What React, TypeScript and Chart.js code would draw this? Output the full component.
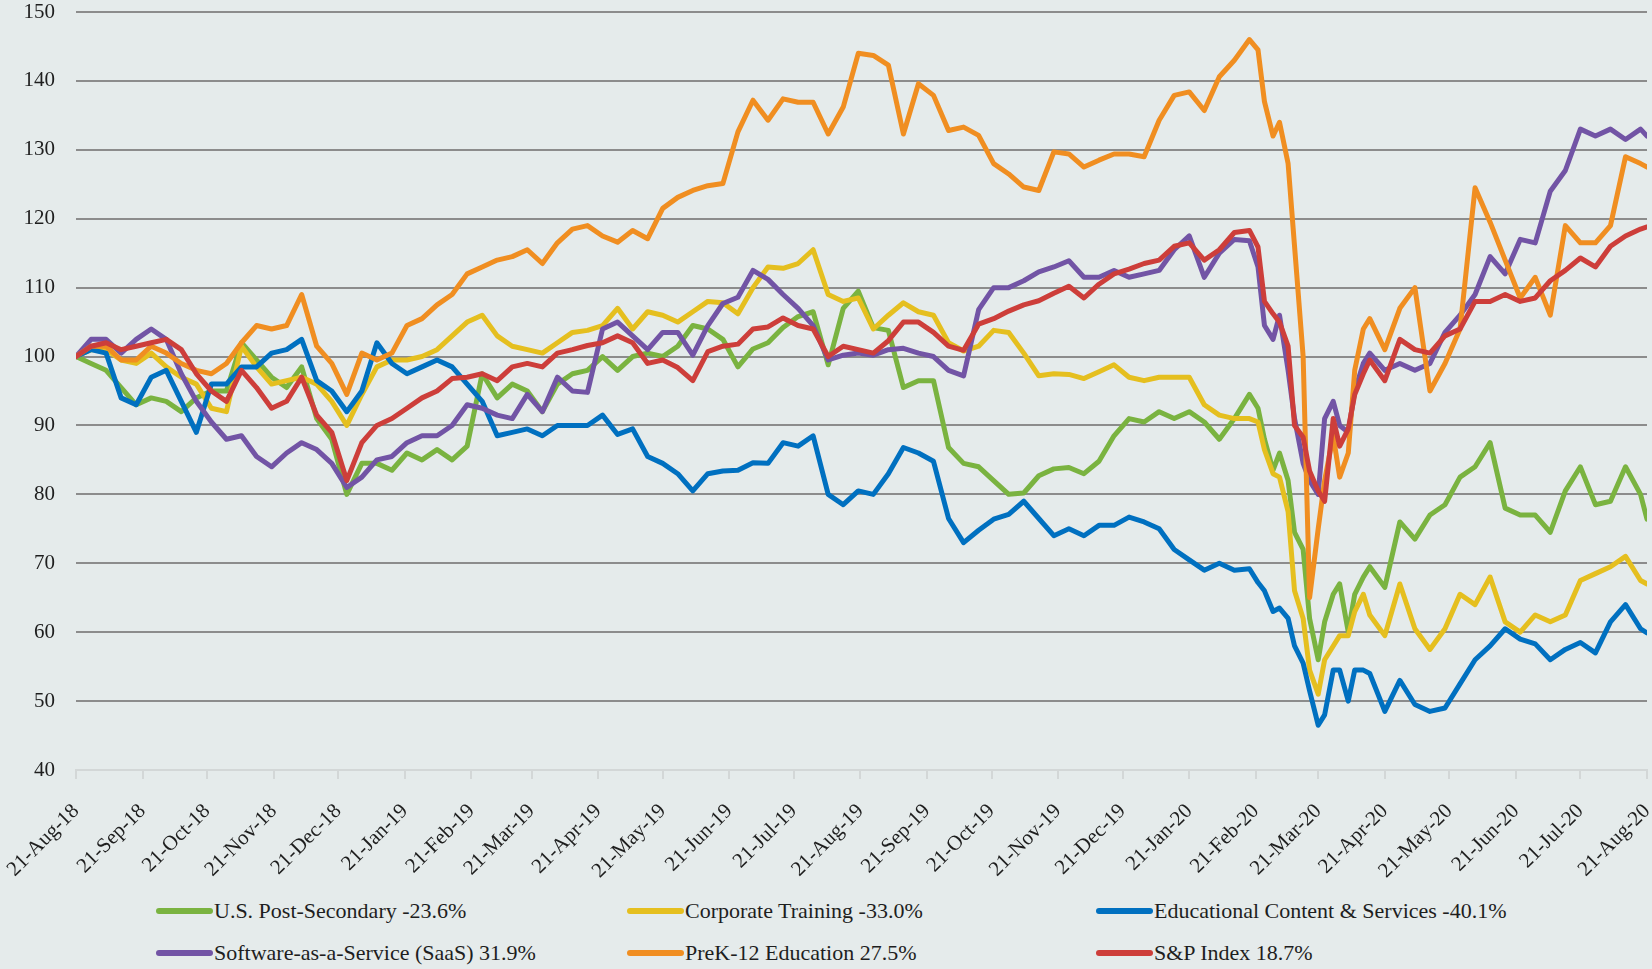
import React, { useEffect, useRef } from "react";
import { Chart, registerables } from "chart.js";

Chart.register(...registerables);

// Days elapsed since 21-Aug-2018 for each observation
const dayOffsets = [
  0, 7, 14, 21, 28, 35, 42, 49, 56, 63, 70, 77, 84, 91, 98, 105, 112, 119, 126, 133,
  140, 147, 154, 161, 168, 175, 182, 189, 196, 203, 210, 217, 224, 231, 238, 245, 252, 259, 266, 273,
  280, 287, 294, 301, 308, 315, 322, 329, 336, 343, 350, 357, 364, 371, 378, 385, 392, 399, 406, 413,
  420, 427, 434, 441, 448, 455, 462, 469, 476, 483, 490, 497, 504, 511, 518, 525, 532, 539, 546,
  550, 553, 557, 560, 564, 567, 571, 574, 578, 581, 585, 588, 592, 595, 599,
  602, 609, 616, 623, 630, 637, 644, 651, 658, 665, 672, 679, 686, 693, 700, 707, 714, 721, 728,
  731,
];

const tickDays = [0, 31, 61, 92, 122, 153, 184, 212, 243, 273, 304, 334, 365, 396, 426, 457, 487, 518, 549, 578, 609, 639, 670, 700, 731];
const tickLabels = [
  "21-Aug-18", "21-Sep-18", "21-Oct-18", "21-Nov-18", "21-Dec-18", "21-Jan-19", "21-Feb-19", "21-Mar-19",
  "21-Apr-19", "21-May-19", "21-Jun-19", "21-Jul-19", "21-Aug-19", "21-Sep-19", "21-Oct-19", "21-Nov-19",
  "21-Dec-19", "21-Jan-20", "21-Feb-20", "21-Mar-20", "21-Apr-20", "21-May-20", "21-Jun-20", "21-Jul-20", "21-Aug-20",
];

const seriesNames = [
  "U.S. Post-Secondary -23.6%",
  "Corporate Training -33.0%",
  "Educational Content & Services -40.1%",
  "Software-as-a-Service (SaaS) 31.9%",
  "PreK-12 Education 27.5%",
  "S&P Index 18.7%",
];
const seriesColors = ["#7AB340", "#E5BF1F", "#0070C0", "#7254A5", "#F08E21", "#CD3E3A"];

const postSecondary = [
  100, 99, 98, 95.5, 93, 94, 93.5, 92, 94, 95, 95, 102, 99.5, 97, 95.5, 98.5, 91, 88, 80, 84.5,
  84.5, 83.5, 86, 85, 86.5, 85, 87, 97.5, 94, 96, 95, 92, 96, 97.5, 98, 100, 98, 100, 100.5, 100,
  101.5, 104.5, 104, 102.5, 98.5, 101.1, 102, 104.2, 105.8, 106.5, 98.8, 107, 109.5, 104.2, 103.8, 95.5, 96.5, 96.5, 86.8, 84.5,
  84, 82, 80, 80.2, 82.7, 83.7, 83.9, 83, 84.8, 88.5, 91, 90.5, 92, 91, 92, 90.5, 88, 91, 94.5,
  92.5, 88, 83.5, 86, 82, 74.5, 72, 62, 56, 61.5, 65.5, 67, 60, 65.5, 68,
  69.5, 66.5, 76, 73.5, 77, 78.5, 82.5, 84, 87.5, 78, 77, 77, 74.5, 80.5, 84, 78.5, 79, 84, 80,
  76.4,
];

const corporateTraining = [
  100, 101, 101, 99.5, 99, 100.5, 98.5, 97, 96, 92.5, 92, 101.5, 98.5, 96, 96.5, 97, 96, 93.5, 90, 94.5,
  98.5, 99.5, 99.5, 100, 101, 103, 105, 106, 103, 101.5, 101, 100.5, 102, 103.5, 103.8, 104.5, 107, 104, 106.5, 106,
  105, 106.5, 108, 107.8, 106.2, 110, 113, 112.8, 113.5, 115.5, 109, 108, 108.5, 104, 106, 107.8, 106.5, 106, 102, 100.8,
  101.5, 103.8, 103.5, 100.5, 97.2, 97.5, 97.4, 96.8, 97.8, 98.8, 97, 96.5, 97, 97, 97, 93, 91.5, 91, 91,
  90.5, 86.5, 83, 82.5, 77.5, 66, 62, 54.5, 51, 56, 58, 59.5, 59.5, 63, 65.5,
  62.5, 59.5, 67, 60.5, 57.5, 60.5, 65.5, 64, 68, 61.5, 60, 62.5, 61.5, 62.5, 67.5, 68.5, 69.5, 71, 67.5,
  67,
];

const educationalContent = [
  100, 101, 100.5, 94, 93, 97, 98, 93.5, 89, 96, 96, 98.5, 98.5, 100.5, 101, 102.5, 96.5, 95, 92, 95,
  102, 99, 97.5, 98.5, 99.5, 98.5, 96, 93.5, 88.5, 89, 89.5, 88.5, 90, 90, 90, 91.5, 88.7, 89.5, 85.5, 84.5,
  83, 80.5, 83, 83.4, 83.5, 84.6, 84.5, 87.5, 87, 88.5, 80, 78.5, 80.5, 80, 83, 86.8, 86, 84.8, 76.5, 73,
  74.8, 76.4, 77.1, 79, 76.5, 74, 75, 74, 75.5, 75.5, 76.7, 76, 75, 72, 70.5, 69, 70, 69, 69.2,
  67.2, 66, 63, 63.5, 62, 58, 55.5, 51.5, 46.5, 48, 54.5, 54.5, 50, 54.5, 54.5,
  54, 48.5, 53, 49.5, 48.5, 49, 52.5, 56, 58, 60.5, 59, 58.3, 56, 57.5, 58.5, 57, 61.5, 64, 60.5,
  59.9,
];

const saas = [
  100, 102.5, 102.5, 100.5, 102.5, 104, 102.5, 97.5, 93.5, 90.5, 88, 88.5, 85.5, 84, 86, 87.5, 86.5, 84.5, 81, 82.5,
  85, 85.5, 87.5, 88.5, 88.5, 90, 93, 92.5, 91.5, 91, 94.5, 92, 97, 95, 94.8, 104, 105, 103, 101, 103.5,
  103.5, 100.2, 104.5, 107.7, 108.6, 112.5, 111.2, 109, 107, 104.5, 99.5, 100.2, 100.5, 100.2, 101, 101.2, 100.5, 100, 98, 97.2,
  106.8, 110, 110, 111, 112.3, 113, 113.9, 111.5, 111.5, 112.5, 111.5, 112, 112.5, 115.5, 117.5, 111.5, 115, 117, 116.8,
  113, 104.5, 102.5, 106, 98, 91, 84.5, 82, 80, 91, 93.5, 90, 89, 95, 99,
  100.5, 98, 99, 98, 99, 103.5, 106, 109, 114.5, 112, 117, 116.5, 124, 127, 133, 132, 133, 131.5, 133,
  132,
];

const preK12 = [
  100, 101.5, 101.5, 99.5, 99.5, 101.5, 100.5, 99, 98, 97.5, 99, 102, 104.5, 104, 104.5, 109, 101.5, 99, 94.5, 100.5,
  99.5, 100.5, 104.5, 105.5, 107.5, 109, 112, 113, 114, 114.5, 115.5, 113.5, 116.5, 118.5, 119, 117.5, 116.6, 118.3, 117.1, 121.5,
  123.1, 124.1, 124.8, 125.1, 132.6, 137.2, 134.3, 137.4, 136.9, 136.9, 132.3, 136.2, 144, 143.7, 142.3, 132.3, 139.6, 137.9, 132.8, 133.3,
  132.1, 128, 126.5, 124.6, 124.1, 129.7, 129.4, 127.5, 128.5, 129.4, 129.4, 129, 134.3, 137.9, 138.4, 135.7, 140.6, 143, 146,
  144.5, 137, 132, 134, 128, 116, 100, 65, 75, 82, 88.5, 82.5, 86, 98, 104,
  105.5, 101, 107, 110, 95, 99, 104, 124.5, 119.5, 114, 108.5, 111.5, 106, 119, 116.5, 116.5, 119, 129, 128,
  127.5,
];

const spIndex = [
  100, 101.5, 102, 101, 101.5, 102, 102.5, 101, 97.5, 95, 93.5, 98, 95.5, 92.5, 93.5, 97, 91.5, 89, 82, 87.5,
  90, 91, 92.5, 94, 95, 96.8, 97, 97.5, 96.5, 98.5, 99, 98.5, 100.5, 101, 101.6, 102, 103, 102, 99, 99.5,
  98.4, 96.5, 100.7, 101.5, 101.8, 104, 104.3, 105.6, 104.5, 104, 100, 101.5, 101, 100.5, 102.3, 105, 105, 103.5, 101.5, 100.9,
  104.7, 105.5, 106.6, 107.5, 108.1, 109.2, 110.2, 108.5, 110.5, 112, 112.7, 113.5, 114, 116, 116.5, 114, 115.5, 118, 118.3,
  115.9, 108, 106.2, 105, 101.5, 90, 88.3, 83.4, 80.5, 79, 91, 87, 89.5, 94.5, 97.5,
  99.5, 96.5, 102.5, 101, 100.5, 103, 104, 108, 108, 109, 108, 108.5, 111, 112.5, 114.3, 113, 116, 117.5, 118.5,
  118.8,
];

const seriesValues = [postSecondary, corporateTraining, educationalContent, saas, preK12, spIndex];
const drawOrder = [5, 4, 3, 2, 1, 0];

const FONT = "'Liberation Serif', 'DejaVu Serif', serif";
const BG = "#E5EBEB";

const legendColsX = [156, 627, 1096];
const legendRowsY = [911, 953];

function ChartCanvas() {
  const ref = useRef<HTMLCanvasElement | null>(null);
  useEffect(() => {
    if (!ref.current) return;
    const chart = new Chart(ref.current, {
      type: "line",
      data: {
        datasets: seriesNames.map((name, i) => ({
          label: name,
          data: dayOffsets.map((d, j) => ({ x: d, y: seriesValues[i][j] })),
          borderColor: seriesColors[i],
          backgroundColor: seriesColors[i],
          borderWidth: 5,
          pointRadius: 0,
          tension: 0,
          borderJoinStyle: "round",
          borderCapStyle: "round",
          order: drawOrder[i],
        })),
      },
      options: {
        responsive: false,
        animation: false,
        layout: { padding: { top: 12, left: 0, right: 5, bottom: 0 } },
        plugins: { legend: { display: false }, tooltip: { enabled: false } },
        scales: {
          x: {
            type: "linear",
            min: 0,
            max: 731,
            afterBuildTicks: (scale: any) => {
              scale.ticks = tickDays.map((v) => ({ value: v }));
            },
            afterFit: (scale: any) => {
              scale.height = 125;
              scale.paddingLeft = 0;
              scale.paddingRight = 0;
            },
            ticks: {
              autoSkip: false,
              maxRotation: 45,
              minRotation: 45,
              padding: 20,
              color: "#1e1e1e",
              font: { family: FONT, size: 21 },
              callback: (value: any) => {
                const i = tickDays.indexOf(Number(value));
                return i >= 0 ? tickLabels[i] : "";
              },
            },
            grid: {
              display: true,
              drawOnChartArea: false,
              drawTicks: true,
              tickLength: 9,
              color: "#d3d7d7",
              lineWidth: 2,
            },
            border: { display: true, color: "#d3d7d7", width: 2 },
          },
          y: {
            min: 40,
            max: 150,
            afterFit: (scale: any) => {
              scale.width = 76;
              scale.paddingTop = 0;
              scale.paddingBottom = 0;
            },
            ticks: {
              stepSize: 10,
              padding: 21,
              color: "#1e1e1e",
              font: { family: FONT, size: 21 },
            },
            grid: {
              drawTicks: false,
              lineWidth: 2,
              color: (ctx: any) => (ctx.tick && ctx.tick.value === 40 ? "rgba(0,0,0,0)" : "#8c8c8c"),
            },
            border: { display: false },
          },
        },
      },
    });
    return () => chart.destroy();
  }, []);
  return <canvas ref={ref} width={1652} height={895} style={{ display: "block", position: "absolute", left: 0, top: 0 }} />;
}

export default function App() {
  return (
    <div style={{ position: "fixed", left: 0, top: 0, width: 1652, height: 969, background: BG, overflow: "hidden" }}>
      <ChartCanvas />
      {seriesNames.map((name, i) => {
        const col = i % 3;
        const row = Math.floor(i / 3);
        return (
          <div
            key={name}
            style={{
              position: "absolute",
              left: legendColsX[col],
              top: legendRowsY[row] - 15,
              height: 30,
              display: "flex",
              alignItems: "center",
              fontFamily: FONT,
              fontSize: 22,
              color: "#1e1e1e",
              whiteSpace: "nowrap",
            }}
          >
            <span
              style={{
                display: "inline-block",
                width: 57,
                height: 6,
                borderRadius: 3,
                background: seriesColors[i],
                marginRight: 1,
              }}
            />
            <span>{name}</span>
          </div>
        );
      })}
    </div>
  );
}
